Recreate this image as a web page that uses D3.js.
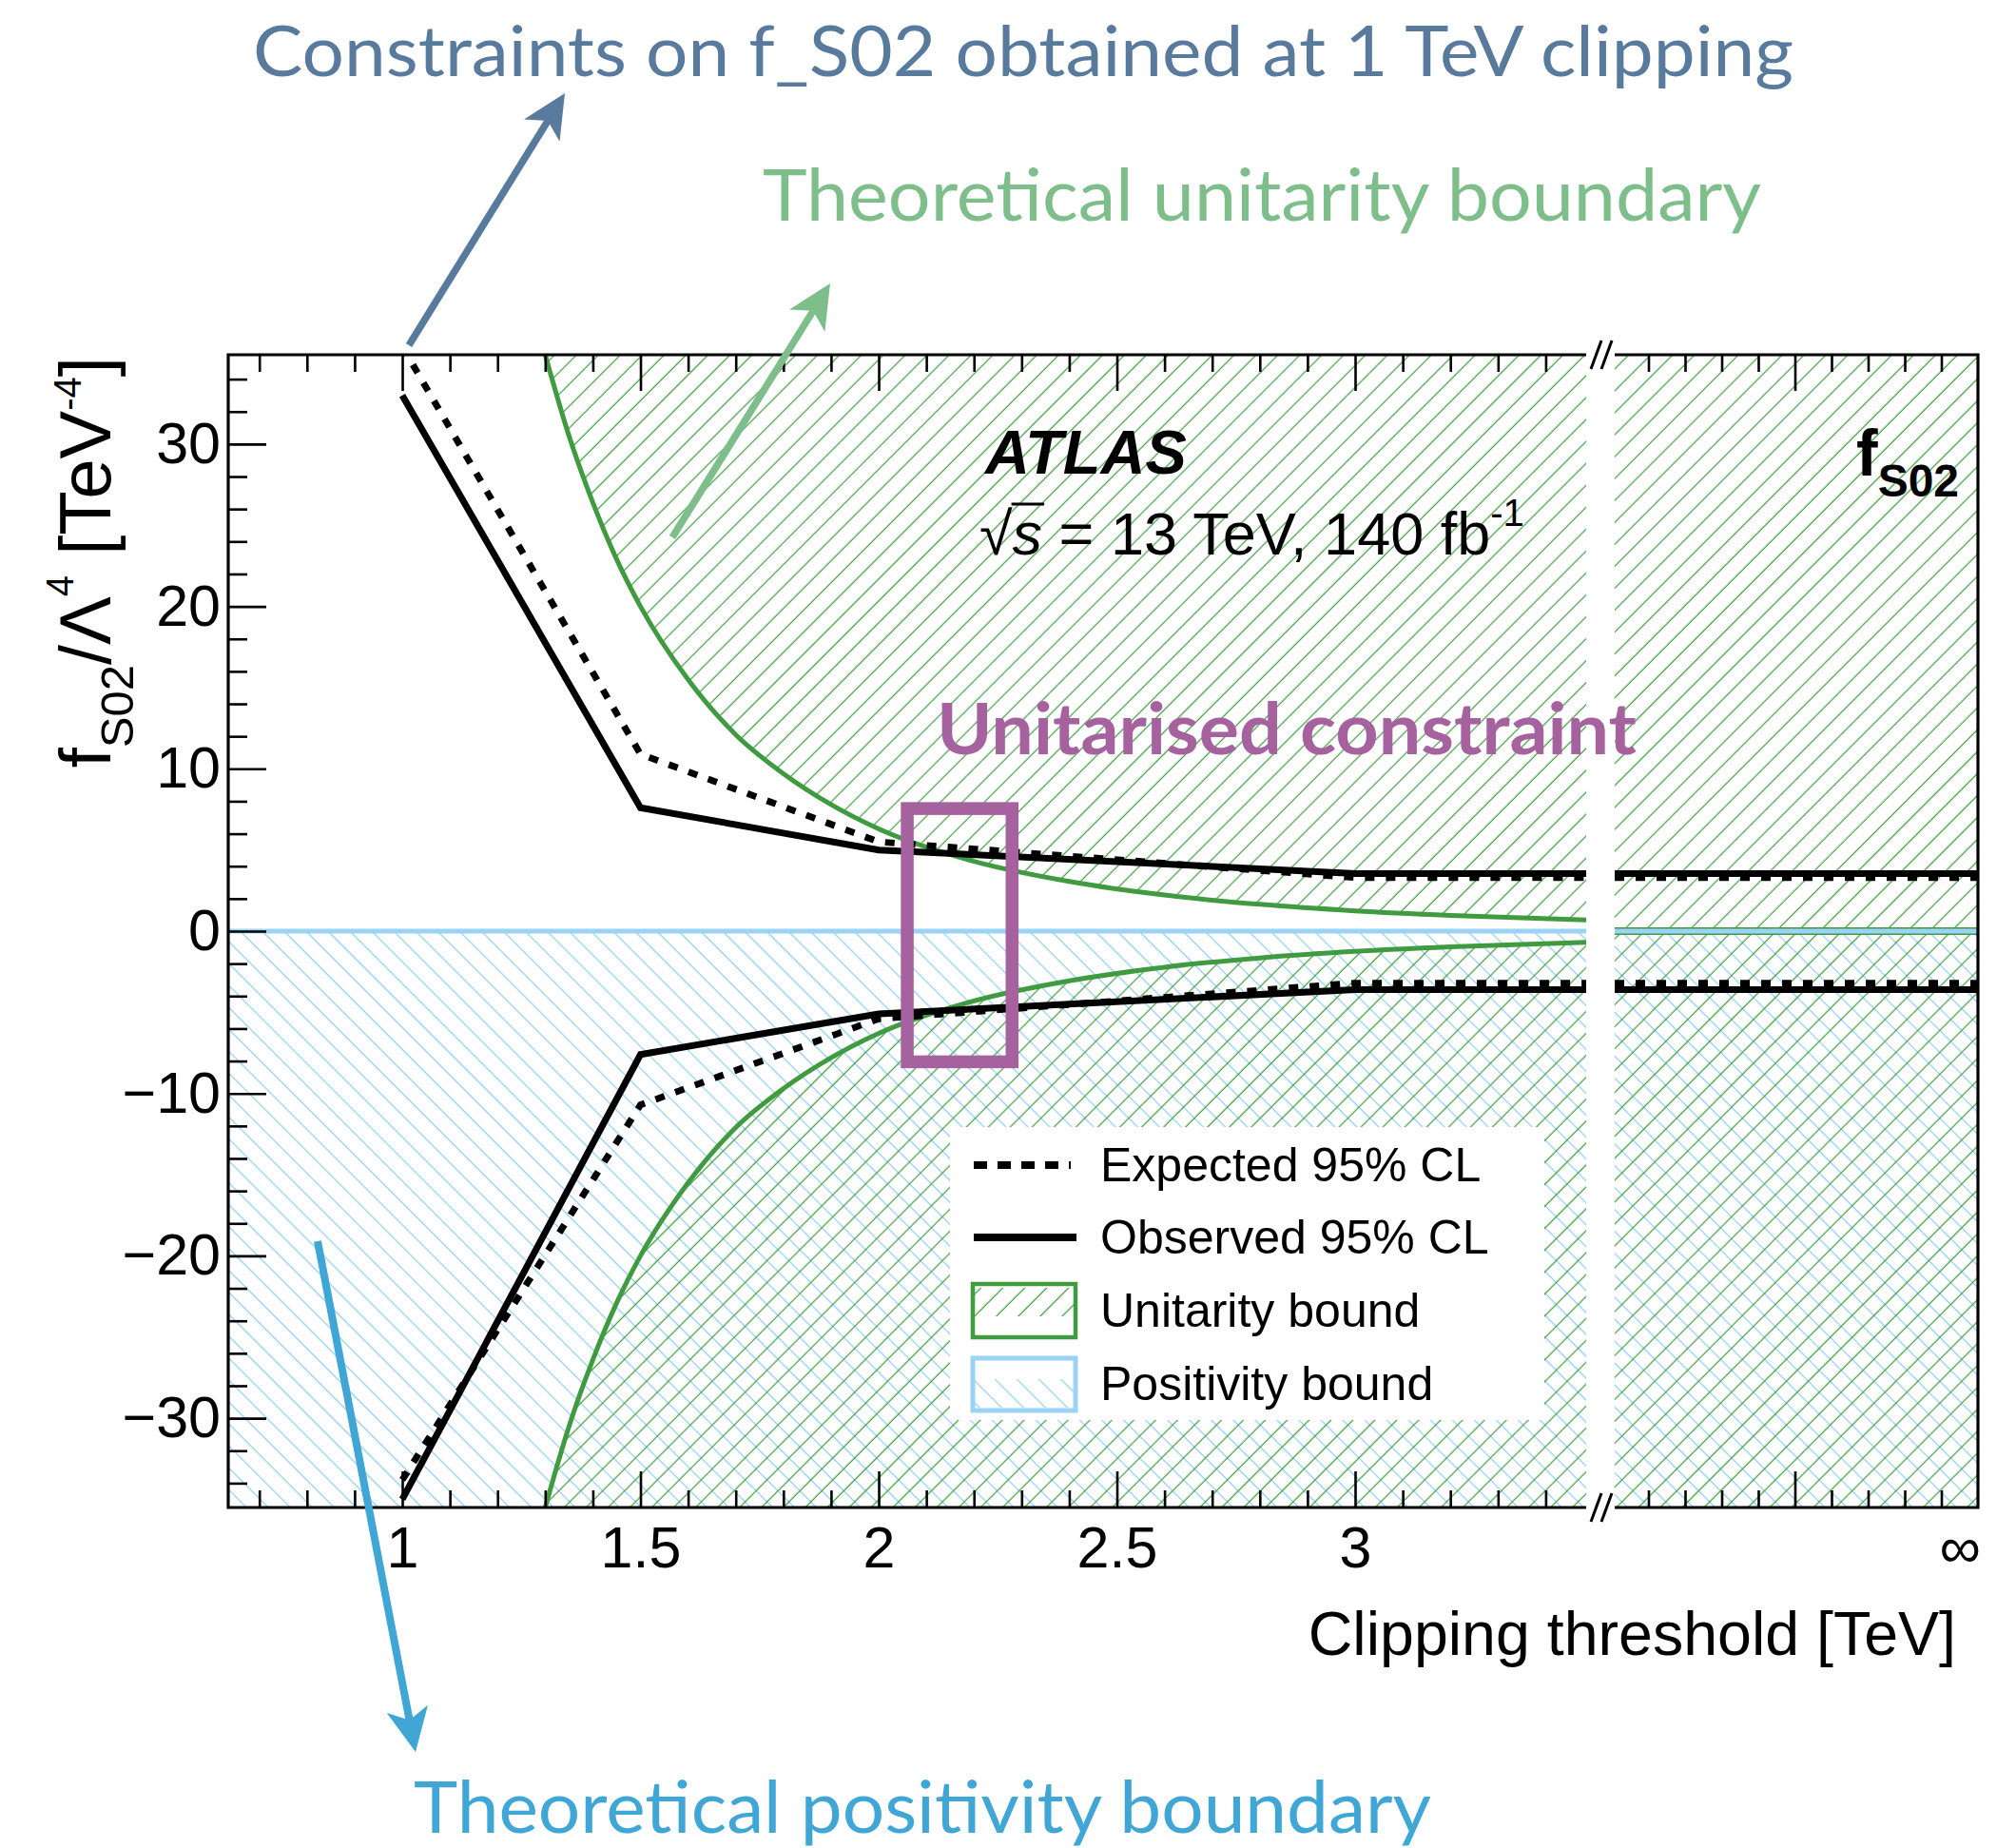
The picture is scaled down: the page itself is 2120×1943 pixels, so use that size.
<!DOCTYPE html>
<html>
<head>
<meta charset="utf-8">
<script src="https://cdn.jsdelivr.net/npm/d3@7"></script>
<style>
  html, body { margin: 0; padding: 0; background: #fff; }
  svg { display: block; }
</style>
</head>
<body>
<svg id="chart" width="2120" height="1943"></svg>
<script>
// ---- Limits on f_S02 / Lambda^4 versus clipping threshold ----
const clipThresholds = [1.0, 1.5, 2.0, 3.0];            // TeV
const observedUpper  = [33.0, 7.6, 5.0, 3.55];
const observedLower  = [-35.0, -7.6, -5.1, -3.6];
const expectedUpper  = [36.0, 10.9, 5.5, 3.3];
const expectedLower  = [-33.8, -10.7, -5.4, -3.2];
// limits without clipping (drawn in the "infinity" panel)
const observedNoClip = [3.55, -3.6];
const expectedNoClip = [3.3, -3.2];

// unitarity bound as a function of the clipping energy
const unitarityEnergy = [1.30, 1.35, 1.40, 1.45, 1.50, 1.60, 1.70, 1.80, 1.90, 2.00, 2.20, 2.40, 2.60, 2.80, 3.00, 3.20, 3.485];
const unitarityUpper  = [35.5, 30.5, 26.4, 22.9, 20.0, 15.5, 12.1, 9.7, 7.8, 6.3, 4.3, 3.06, 2.22, 1.65, 1.25, 0.97, 0.69];
const unitarityLower  = [-35.5, -30.5, -26.4, -22.9, -20.0, -15.5, -12.1, -9.7, -7.8, -6.3, -4.3, -3.06, -2.22, -1.65, -1.25, -0.97, -0.69];
const unitarityNoClip = 0;
const positivityBound = 0;

// axis ticks
const xMajorTicks = [1, 1.5, 2, 2.5, 3];
const xTickLabels = ["1", "1.5", "2", "2.5", "3"];
const yMajorTicks = [-30, -20, -10, 0, 10, 20, 30];
const yTickLabels = ["\u221230", "\u221220", "\u221210", "0", "10", "20", "30"];
const infTickLabel = "\u221e";

// highlighted region (data units)
const unitarisedBox = { x0: 2.06, x1: 2.28, y0: -8.05, y1: 7.55 };

// ---- layout ----
const M = { left: 240, right: 2080, top: 373, bottom: 1585, breakL: 1668, breakR: 1698, infStart: 1695 };
const HELV = "'Liberation Sans', Arial, Helvetica, sans-serif";
const CAL = "Lato, 'Open Sans', sans-serif";
const C = {
  green: "#409b40", greenHatch: "#3f9c3f", blue: "#9ad3f6", blueHatch: "#8ccdf2",
  purple: "#a6619f", slate: "#587a9d", lightGreen: "#7dbe8b", sky: "#3fa6d6"
};

const svg = d3.select("#chart");
svg.append("rect").attr("width", 2120).attr("height", 1943).attr("fill", "#fff");

const x = d3.scaleLinear().domain([0.6347, 3.485]).range([M.left, M.breakL]);
const xInf = d3.scaleLinear().domain([0, 1]).range([M.infStart, M.right]);
const y = d3.scaleLinear().domain([-35.5, 35.5]).range([M.bottom, M.top]);

// ---- defs: hatches and clips ----
const defs = svg.append("defs");
function hatch(id, angle, color) {
  const p = defs.append("pattern").attr("id", id)
    .attr("patternUnits", "userSpaceOnUse").attr("width", 16.3).attr("height", 16.3)
    .attr("patternTransform", `rotate(${angle})`);
  p.append("line").attr("x1", 8).attr("x2", 8).attr("y1", -1).attr("y2", 17.3)
    .attr("stroke", color).attr("stroke-width", 1.2);
}
hatch("hatchGreen", 45, C.greenHatch);
hatch("hatchBlue", -45, C.blueHatch);

defs.append("clipPath").attr("id", "clipLeft").append("rect")
  .attr("x", M.left).attr("y", M.top).attr("width", M.breakL - M.left).attr("height", M.bottom - M.top);
defs.append("clipPath").attr("id", "clipRight").append("rect")
  .attr("x", M.breakR).attr("y", M.top).attr("width", M.right - M.breakR).attr("height", M.bottom - M.top);

const left = svg.append("g").attr("clip-path", "url(#clipLeft)");
const right = svg.append("g").attr("clip-path", "url(#clipRight)");

// ---- positivity bound (excluded region below zero) ----
left.append("rect").attr("x", M.left).attr("width", M.breakL - M.left)
  .attr("y", y(positivityBound)).attr("height", M.bottom - y(positivityBound))
  .attr("fill", "url(#hatchBlue)");
right.append("rect").attr("x", M.breakR).attr("width", M.right - M.breakR)
  .attr("y", y(positivityBound)).attr("height", M.bottom - y(positivityBound))
  .attr("fill", "url(#hatchBlue)");

// ---- unitarity bound (excluded regions outside the curves) ----
const upPts = unitarityEnergy.map((e, i) => [e, unitarityUpper[i]]);
const loPts = unitarityEnergy.map((e, i) => [e, unitarityLower[i]]);
const areaUp = d3.area().x(d => x(d[0])).y0(M.top).y1(d => y(d[1])).curve(d3.curveMonotoneX);
const areaLo = d3.area().x(d => x(d[0])).y0(M.bottom).y1(d => y(d[1])).curve(d3.curveMonotoneX);
left.append("path").attr("d", areaUp(upPts)).attr("fill", "url(#hatchGreen)");
left.append("path").attr("d", areaLo(loPts)).attr("fill", "url(#hatchGreen)");
right.append("rect").attr("x", M.breakR).attr("width", M.right - M.breakR)
  .attr("y", M.top).attr("height", M.bottom - M.top).attr("fill", "url(#hatchGreen)");

const curve = d3.line().x(d => x(d[0])).y(d => y(d[1])).curve(d3.curveMonotoneX);
[upPts, loPts].forEach(pts => left.append("path").attr("d", curve(pts))
  .attr("fill", "none").attr("stroke", C.green).attr("stroke-width", 5));
right.append("line").attr("x1", xInf(0)).attr("x2", xInf(1))
  .attr("y1", y(unitarityNoClip)).attr("y2", y(unitarityNoClip))
  .attr("stroke", C.green).attr("stroke-width", 8);

// positivity boundary line
left.append("line").attr("x1", M.left).attr("x2", M.breakL)
  .attr("y1", y(positivityBound)).attr("y2", y(positivityBound))
  .attr("stroke", C.blue).attr("stroke-width", 5);
right.append("line").attr("x1", xInf(0)).attr("x2", xInf(1))
  .attr("y1", y(positivityBound)).attr("y2", y(positivityBound))
  .attr("stroke", C.blue).attr("stroke-width", 5);

// ---- observed / expected limits ----
const xEnd = x.domain()[1];
function series(vals) {
  const pts = clipThresholds.map((t, i) => [t, vals[i]]);
  pts.push([xEnd, vals[vals.length - 1]]);
  return pts;
}
const limLine = d3.line().x(d => x(d[0])).y(d => y(d[1]));
const styles = {
  observed: { w: 7, dash: null },
  expected: { w: 7, dash: "10,12" }
};
function drawLimit(vals, st) {
  left.append("path").attr("d", limLine(series(vals))).attr("fill", "none")
    .attr("stroke", "#000").attr("stroke-width", st.w)
    .attr("stroke-dasharray", st.dash).attr("stroke-linejoin", "miter");
}
drawLimit(observedUpper, styles.observed);
drawLimit(observedLower, styles.observed);
drawLimit(expectedUpper, styles.expected);
drawLimit(expectedLower, styles.expected);
function drawInf(v, st) {
  right.append("line").attr("x1", M.breakR).attr("x2", xInf(1))
    .attr("y1", y(v)).attr("y2", y(v))
    .attr("stroke", "#000").attr("stroke-width", st.w).attr("stroke-dasharray", st.dash);
}
observedNoClip.forEach(v => drawInf(v, styles.observed));
expectedNoClip.forEach(v => drawInf(v, styles.expected));

// ---- highlighted unitarised constraint box ----
svg.append("rect")
  .attr("x", x(unitarisedBox.x0)).attr("y", y(unitarisedBox.y1))
  .attr("width", x(unitarisedBox.x1) - x(unitarisedBox.x0))
  .attr("height", y(unitarisedBox.y0) - y(unitarisedBox.y1))
  .attr("fill", "none").attr("stroke", C.purple).attr("stroke-width", 13.5);

// ---- legend ----
const lg = svg.append("g").attr("font-family", HELV).attr("font-size", 50);
lg.append("rect").attr("x", 999).attr("y", 1185).attr("width", 625).attr("height", 308).attr("fill", "#fff");
const rowY = [1225, 1301, 1378, 1455];
const legendLabels = ["Expected 95% CL", "Observed 95% CL", "Unitarity bound", "Positivity bound"];
lg.append("line").attr("x1", 1024).attr("x2", 1126).attr("y1", rowY[0]).attr("y2", rowY[0])
  .attr("stroke", "#000").attr("stroke-width", 8).attr("stroke-dasharray", "14,11");
lg.append("line").attr("x1", 1024).attr("x2", 1132).attr("y1", rowY[1]).attr("y2", rowY[1])
  .attr("stroke", "#000").attr("stroke-width", 8);
lg.append("rect").attr("x", 1023).attr("y", 1354).attr("width", 108).attr("height", 30).attr("fill", "url(#hatchGreen)");
lg.append("rect").attr("x", 1023).attr("y", 1350).attr("width", 108).attr("height", 56)
  .attr("fill", "none").attr("stroke", C.green).attr("stroke-width", 4.5);
lg.append("rect").attr("x", 1023).attr("y", 1450).attr("width", 108).attr("height", 30).attr("fill", "url(#hatchBlue)");
lg.append("rect").attr("x", 1023).attr("y", 1428).attr("width", 108).attr("height", 55)
  .attr("fill", "none").attr("stroke", C.blue).attr("stroke-width", 5);
legendLabels.forEach((t, i) => lg.append("text").attr("x", 1157).attr("y", rowY[i] + 17).text(t));

// ---- frame with axis break ----
const frame = svg.append("g").attr("stroke", "#000").attr("stroke-width", 3.2).attr("fill", "none");
frame.append("path").attr("d", `M${M.breakL},${M.top}H${M.left}V${M.bottom}H${M.breakL}`);
frame.append("path").attr("d", `M${M.breakR},${M.top}H${M.right}V${M.bottom}H${M.breakR}`);
[M.top, M.bottom].forEach(fy => {
  [0, 11].forEach(o => frame.append("line").attr("stroke-width", 3)
    .attr("x1", 1673 + o).attr("y1", fy + 15).attr("x2", 1684 + o).attr("y2", fy - 15));
});

// ---- axes ----
const xMinor = d3.range(7, 35).map(i => i / 10).filter(v => !xMajorTicks.some(m => Math.abs(m - v) < 1e-6));
const yMinor = d3.range(-34, 35, 2).filter(v => v % 10 !== 0);
const infMinor = [0.1, 0.2, 0.3, 0.4, 0.6, 0.7, 0.8, 0.9];

function styleAxis(g) {
  g.select(".domain").remove();
  g.attr("font-family", HELV).attr("font-size", 61);
  g.selectAll(".tick line").attr("stroke", "#000").attr("stroke-width", 2.6);
  g.selectAll(".tick text").attr("fill", "#000");
}
function addAxis(axis, tx, ty) {
  svg.append("g").attr("transform", `translate(${tx},${ty})`).call(axis).call(styleAxis);
}
// bottom
addAxis(d3.axisBottom(x).tickValues(xMinor).tickSize(-18).tickFormat(""), 0, M.bottom);
addAxis(d3.axisBottom(x).tickValues(xMajorTicks).tickSize(-38).tickPadding(20)
  .tickFormat((d, i) => xTickLabels[i]), 0, M.bottom);
addAxis(d3.axisBottom(xInf).tickValues(infMinor).tickSize(-18).tickFormat(""), 0, M.bottom);
addAxis(d3.axisBottom(xInf).tickValues([0.5]).tickSize(-38).tickFormat(""), 0, M.bottom);
// top
addAxis(d3.axisTop(x).tickValues(xMinor).tickSize(-18).tickFormat(""), 0, M.top);
addAxis(d3.axisTop(x).tickValues(xMajorTicks).tickSize(-38).tickFormat(""), 0, M.top);
addAxis(d3.axisTop(xInf).tickValues(infMinor).tickSize(-18).tickFormat(""), 0, M.top);
addAxis(d3.axisTop(xInf).tickValues([0.5]).tickSize(-38).tickFormat(""), 0, M.top);
// left
addAxis(d3.axisLeft(y).tickValues(yMinor).tickSize(-20).tickFormat(""), M.left, 0);
addAxis(d3.axisLeft(y).tickValues(yMajorTicks).tickSize(-40).tickPadding(8)
  .tickFormat((d, i) => yTickLabels[i]), M.left, 0);

// infinity label
svg.append("text").attr("x", xInf(1) + 3).attr("y", 1648).attr("text-anchor", "end")
  .attr("font-family", HELV).attr("font-size", 61).text(infTickLabel);

// axis titles
svg.append("text").attr("x", 2057).attr("y", 1740).attr("text-anchor", "end")
  .attr("font-family", HELV).attr("font-size", 64.5).text("Clipping threshold [TeV]");

const yl = svg.append("text").attr("transform", "translate(116,375) rotate(-90)")
  .attr("text-anchor", "end").attr("font-family", HELV).attr("font-size", 76);
yl.append("tspan").text("f");
yl.append("tspan").attr("font-size", 49).attr("dy", 24).text("S02");
yl.append("tspan").attr("dy", -24).text("/\u039b");
yl.append("tspan").attr("font-size", 40).attr("dy", -39).text("4");
yl.append("tspan").attr("dy", 39).text(" [TeV");
yl.append("tspan").attr("font-size", 40).attr("dy", -31).text("-4");
yl.append("tspan").attr("dy", 31).text("]");

// ---- ATLAS label ----
svg.append("text").attr("x", 1036).attr("y", 498).attr("font-family", HELV)
  .attr("font-size", 65).attr("font-weight", "bold").attr("font-style", "italic").text("ATLAS");
const lumi = svg.append("text").attr("x", 1030).attr("y", 583).attr("font-family", HELV).attr("font-size", 63);
lumi.append("tspan").text("\u221a");
lumi.append("tspan").attr("font-style", "italic").text("s");
lumi.append("tspan").text(" = 13 TeV, 140 fb");
lumi.append("tspan").attr("font-size", 40).attr("dy", -30).text("-1");
{
  const n = lumi.node();
  const a = n.getStartPositionOfChar(1), b = n.getEndPositionOfChar(1);
  svg.append("line").attr("x1", a.x - 1).attr("x2", b.x + 2).attr("y1", 530).attr("y2", 530)
    .attr("stroke", "#000").attr("stroke-width", 3);
}
const op = svg.append("text").attr("x", 1952).attr("y", 500).attr("font-family", HELV)
  .attr("font-weight", "bold").attr("font-size", 68);
op.append("tspan").text("f");
op.append("tspan").attr("font-size", 48).attr("dy", 22).text("S02");

// ---- annotations ----
function arrow(x1, y1, x2, y2, color, w) {
  const dx = x2 - x1, dy = y2 - y1, L = Math.hypot(dx, dy);
  const ux = dx / L, uy = dy / L, px = -uy, py = ux;
  const hl = 46, hw = 22, notch = 34;
  const nx = x2 - notch * ux, ny = y2 - notch * uy;
  svg.append("line").attr("x1", x1).attr("y1", y1).attr("x2", nx).attr("y2", ny)
    .attr("stroke", color).attr("stroke-width", w);
  const bx = x2 - hl * ux, by = y2 - hl * uy;
  svg.append("path").attr("fill", color)
    .attr("d", `M${x2},${y2}L${bx + hw * px},${by + hw * py}L${nx},${ny}L${bx - hw * px},${by - hw * py}Z`);
}
arrow(430, 363, 594, 98, C.slate, 7.5);
arrow(707, 565, 873, 298, C.lightGreen, 7.5);
arrow(334, 1305, 437, 1842, C.sky, 8);

function note(txt, xPos, yPos, size, color, len, bold) {
  svg.append("text").attr("x", xPos).attr("y", yPos).attr("font-family", CAL)
    .attr("font-size", size).attr("font-weight", bold ? "bold" : "normal")
    .attr("fill", color).attr("textLength", len).attr("lengthAdjust", "spacingAndGlyphs").text(txt);
}
note("Constraints on f_S02 obtained at 1 TeV clipping", 266, 80, 74, C.slate, 1620, false);
note("Theoretical unitarity boundary", 802, 232, 75, C.lightGreen, 1050, false);
note("Unitarised constraint", 985, 793, 74, C.purple, 736, true);
note("Theoretical positivity boundary", 435, 1927, 75, C.sky, 1070, false);
</script>
</body>
</html>
